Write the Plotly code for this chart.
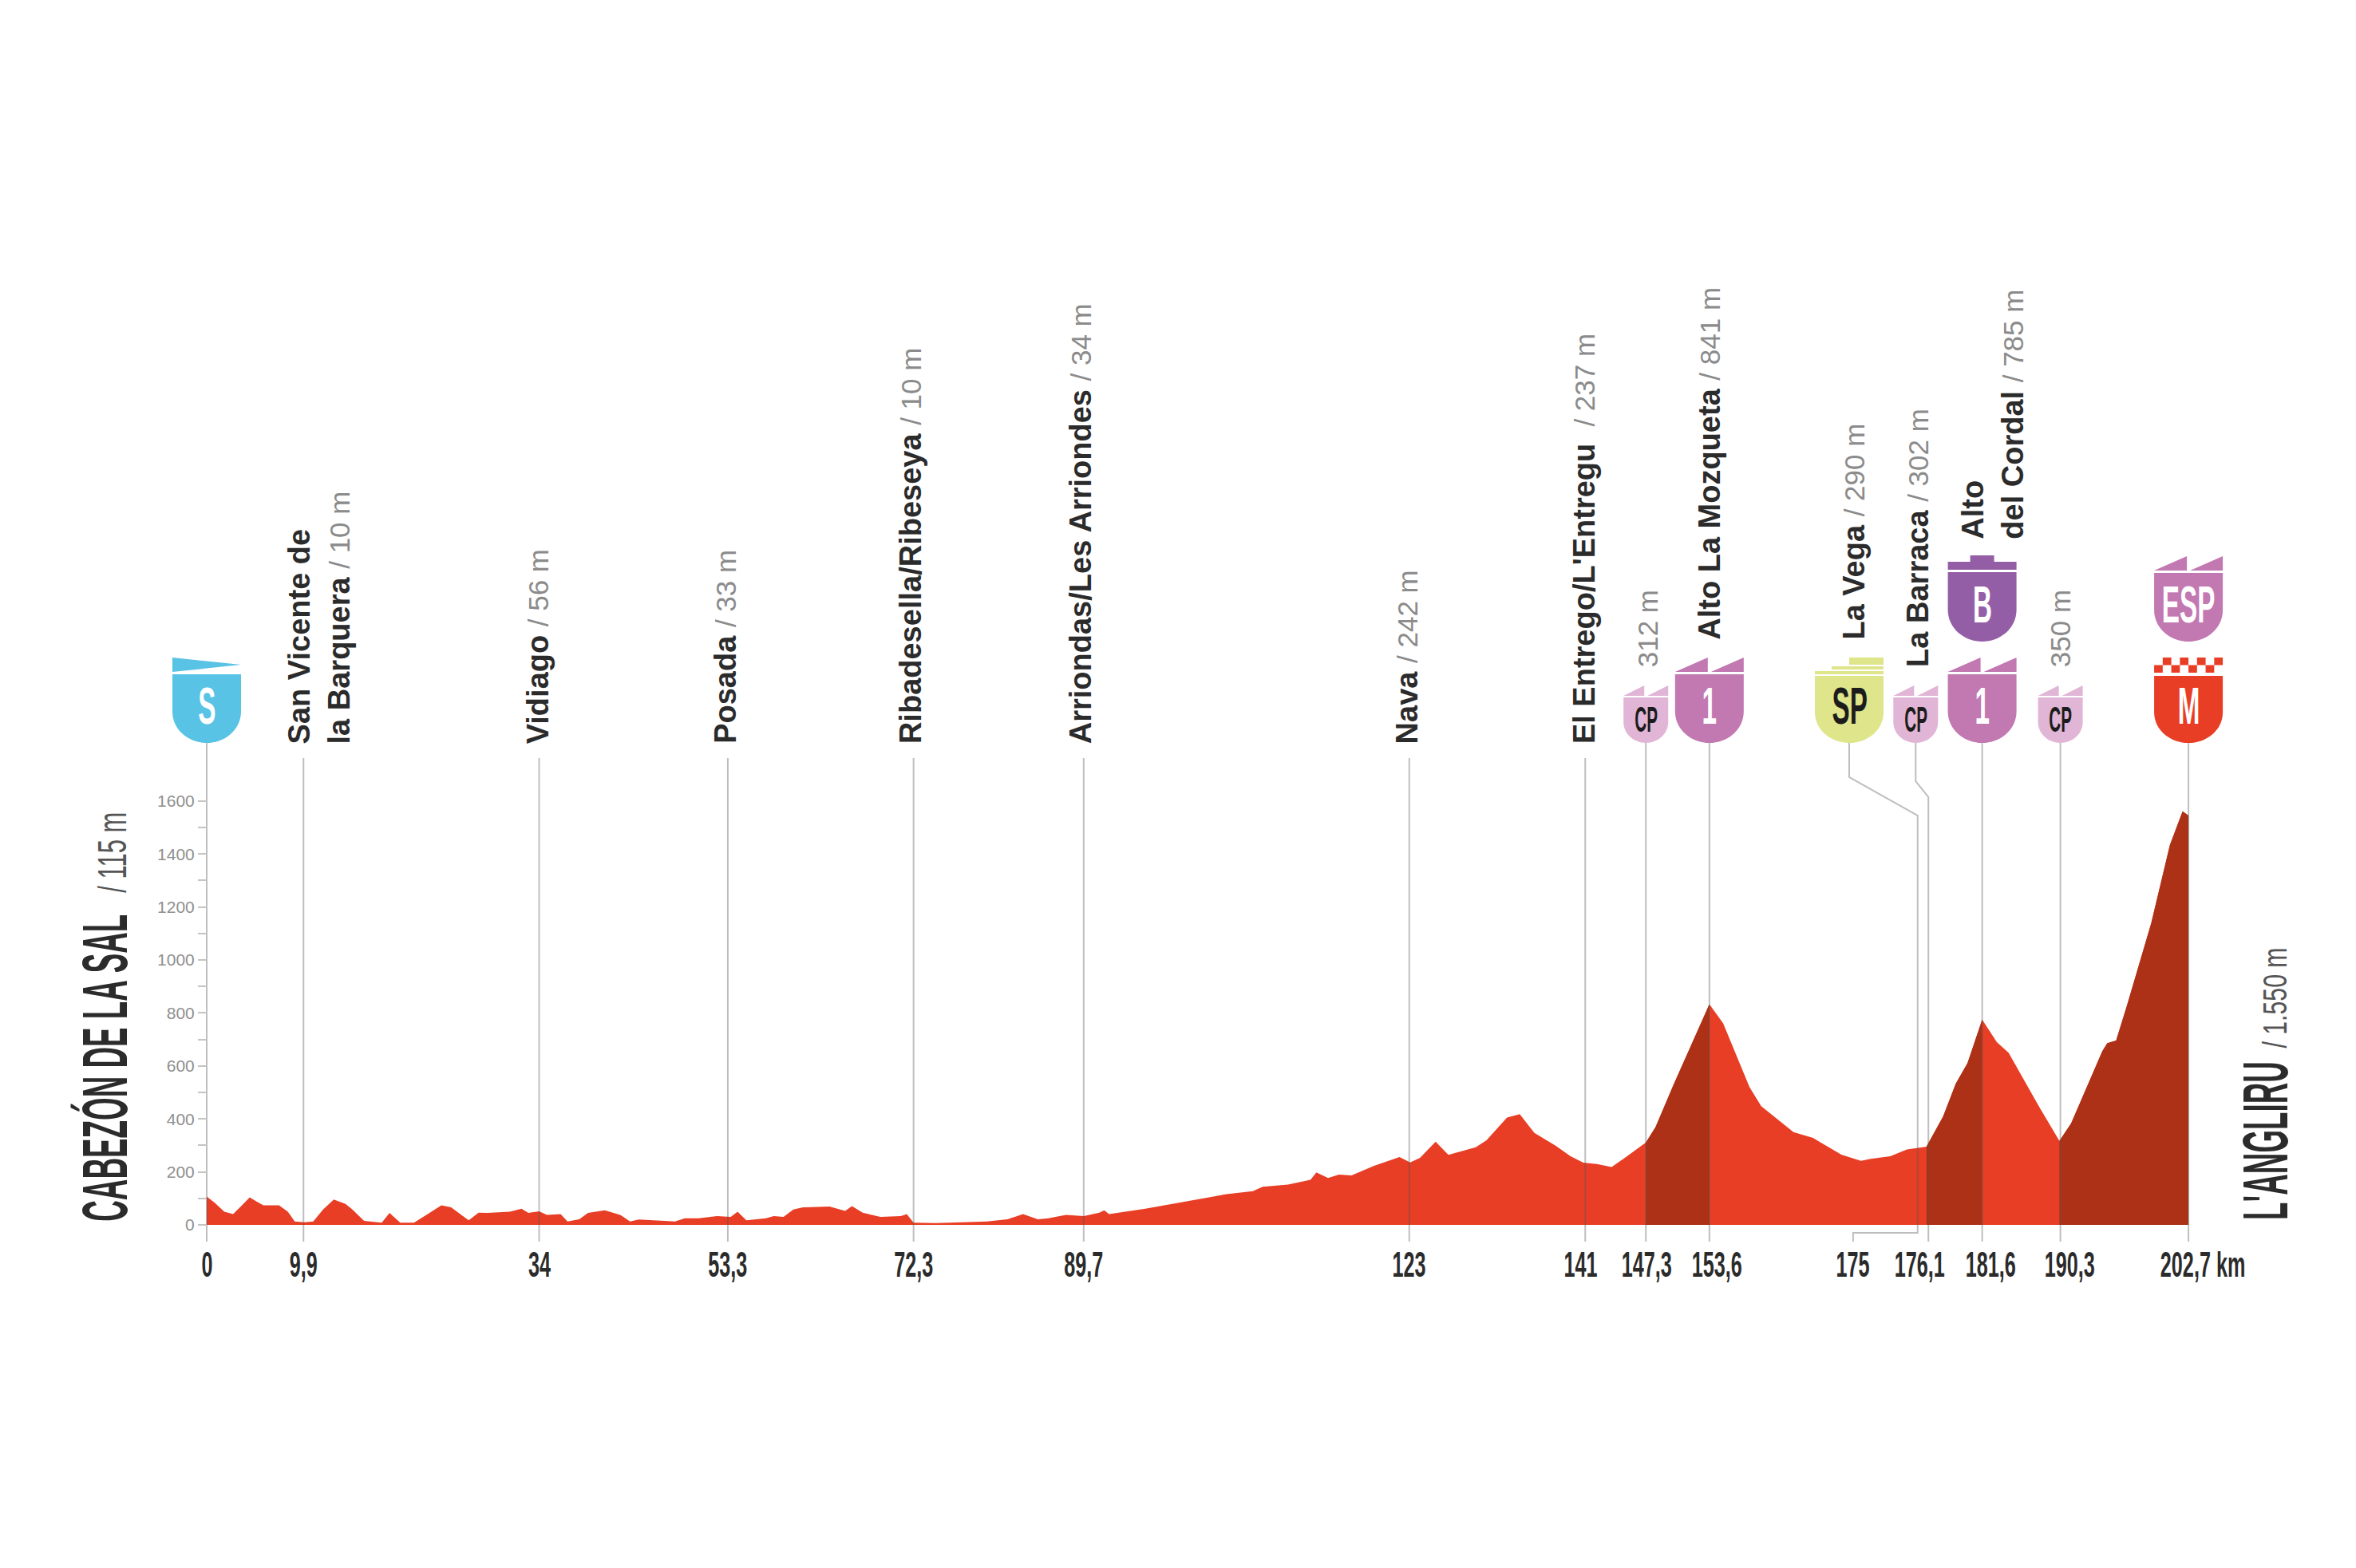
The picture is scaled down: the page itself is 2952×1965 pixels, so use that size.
import json
import plotly.graph_objects as go

# elevation profile
KM = [0, 0.84, 1.8, 2.7, 3.4, 4.4, 5.1, 5.8, 7.4, 8.3, 9.0, 10, 10.9, 11.9, 13, 14.2, 14.9, 16.1, 17.9, 18.7,
      19.8, 21.2, 22.6, 24, 25, 25.9, 26.8, 27.8, 28.7, 31, 32.2, 32.9, 34, 34.8, 36.2, 36.9, 38.1, 39, 40.7, 42.3,
      43.3, 44.2, 47.9, 48.9, 50.3, 52.2, 53.6, 54.3, 55.2, 57.2, 58, 59, 60, 61, 63.7, 65.3, 66, 67.1, 68.9, 71,
      71.6, 72.3, 74.6, 79.8, 81.9, 83.5, 85, 86.1, 87.9, 89.7, 91.3, 91.8, 92.3, 96, 100.7, 104.3, 107, 108, 110.6, 112.9,
      113.5, 114.7, 115.8, 117.1, 119.4, 122, 123.1, 124.1, 125.7, 127, 129.8, 130.9, 133, 134.3, 135.8, 138, 139.5, 140.8, 142.2, 143.7,
      145.5, 147.2, 148.2, 150, 153.7, 155.1, 157.8, 159, 162.3, 164.3, 167.2, 169.2, 170.2, 172.2, 173.9, 175.9, 177.6, 178.9, 180.1, 181.6,
      183.1, 184.3, 187.5, 189.5, 190.7, 193.9, 194.4, 195.3, 196.4, 198.9, 200.8, 202.1, 202.7]
ELE = [107, 83, 50, 41, 66, 104, 88, 74, 74, 50, 13, 10, 13, 58, 96, 79, 58, 15, 8, 45,
       8, 8, 41, 74, 66, 41, 17, 46, 45, 50, 61, 45, 51, 38, 41, 13, 21, 45, 55, 38,
       13, 20, 13, 25, 25, 33, 30, 50, 17, 25, 33, 30, 58, 66, 69, 53, 71, 46, 30, 33,
       41, 8, 7, 13, 21, 41, 21, 25, 38, 33, 46, 55, 41, 61, 91, 116, 127, 144, 152, 170,
       198, 177, 190, 187, 223, 256, 236, 253, 314, 264, 293, 319, 405, 418, 347, 298, 259, 235, 230, 218,
       265, 311, 370, 526, 833, 761, 520, 448, 350, 328, 265, 242, 249, 259, 285, 295, 409, 533, 611, 775,
       690, 650, 441, 317, 383, 657, 686, 696, 827, 1140, 1434, 1561, 1545]

# darker stretches = the climbs
CLIMBS = [(147.2, 153.7), (175.9, 181.6), (189.5, 202.7)]

Y_TICKS = list(range(0, 1700, 100))
Y_LABELS = [str(v) if v % 200 == 0 else "" for v in Y_TICKS]

# km where the plain vertical lines sit
PLAIN_LINES = [9.9, 34, 53.3, 72.3, 89.7, 123, 141]
BADGE_LINES = [0, 147.2, 153.7, 181.6, 189.6, 202.7]

KM_LABELS = ["0", "9,9", "34", "53,3", "72,3", "89,7", "123", "141", "147,3", "153,6", "175", "176,1", "181,6", "190,3", "202,7 km"]
KM_LABEL_POS = [0, 9.9, 34, 53.3, 72.3, 89.7, 123, 140.5, 147.3, 154.5, 168.4, 175.2, 182.5, 190.6, 204.2]

PLACES = ["San Vicente de<br>la Barquera", "Vidiago", "Posada", "Ribadesella/Ribeseya", "Arriondas/Les Arriondes", "Nava",
          "El Entrego/L'Entregu ", "Alto La Mozqueta", "La Vega", "La Barraca", "Alto<br>del Cordal"]
PLACE_M = ["10 m", "56 m", "33 m", "10 m", "34 m", "242 m", "237 m", "841 m", "290 m", "302 m", "785 m"]
PLACE_KM = [11.5, 33.9, 53, 72, 89.4, 122.8, 140.9, 153.7, 168.5, 175, 182.7]
PLACE_BOTTOM = [1810, 1810, 1810, 1810, 1810, 1810, 1810, 2202, 2202, 2099, 2581]

CP_M = ["312 m", "350 m"]
CP_KM = [147.4, 189.6]
CP_BOTTOM = [2099, 2099]

BADGE_KIND = ["S", "CP", "1", "SP", "CP", "1", "B", "CP", "ESP", "M"]
BADGE_KM = [0, 147.2, 153.7, 168, 174.8, 181.6, 181.6, 189.6, 202.7, 202.7]
BADGE_BOTTOM = [1819, 1819, 1819, 1819, 1819, 1819, 2202, 1819, 2202, 1819]

RED = "#e83e25"
DARK = "#ad3116"
PINK = "#c278b1"
INK = "#2b2b2b"
GREY = "#8b8b8b"
LINE = "rgba(85,85,85,0.38)"
NARROW = "Liberation Sans Narrow, Liberation Sans, sans-serif"
SANS = "Liberation Sans, Arial, sans-serif"

# the page body has an 8 px margin, so the figure is a little smaller than the window
W, H = 2936, 1949
L, R, T, B = 60, 60, 40, 300
PAGE = 8
PX_PER_KM = 12.25
PX_PER_M = 0.332
X0_PX, Y0_PX = 259, 1535
x_min = (L + PAGE - X0_PX) / PX_PER_KM
x_max = (W - R + PAGE - X0_PX) / PX_PER_KM
y_min = (Y0_PX - (H - B + PAGE)) / PX_PER_M
y_max = (Y0_PX - (T + PAGE)) / PX_PER_M

fig = go.Figure()
fig.add_trace(go.Scatter(x=KM, y=ELE, mode="lines", line=dict(width=0), fill="tozeroy", fillcolor=RED, hoverinfo="skip"))
for a, b in CLIMBS:
    xs = [k for k in KM if a <= k <= b]
    ys = [e for k, e in zip(KM, ELE) if a <= k <= b]
    fig.add_trace(go.Scatter(x=xs, y=ys, mode="lines", line=dict(width=0), fill="tozeroy", fillcolor=DARK, hoverinfo="skip"))


def rule(xs, ys):
    fig.add_trace(go.Scatter(x=xs, y=ys, mode="lines", line=dict(color=LINE, width=2), hoverinfo="skip"))


for k in PLAIN_LINES:
    rule([k, k], [-63, 1762])
for k in BADGE_LINES:
    rule([k, k], [-63, 1819])
# the two lines that dodge sideways to reach their badges
rule([168, 168, 175, 175, 168.4, 168.4], [1819, 1690, 1545, -30, -30, -63])
rule([174.8, 174.8, 176.1, 176.1], [1819, 1674, 1615, -63])


def shield(w, h, tip=0):
    hw = w / 2
    return f"M{-hw},{h} L{hw},{h} L{hw},{h*0.46} C{hw},{h*0.18} {hw*0.5},{tip} 0,{tip} C{-hw*0.5},{tip} {-hw},{h*0.18} {-hw},{h*0.46} Z"


def flags(w, y0, y1):
    hw = w / 2
    return f"M{-hw},{y0} L{-2},{y1} L{-2},{y0} Z M{2},{y0} L{hw},{y1} L{hw},{y0} Z"


def checks(w, y0, y1):
    n = 8
    cw = w / n
    rh = (y1 - y0) / 2
    out = []
    for r in range(2):
        for c in range(n):
            if (r + c) % 2 == 0:
                x0 = -w / 2 + c * cw
                yy = y0 + r * rh
                out.append(f"M{x0},{yy} L{x0+cw},{yy} L{x0+cw},{yy+rh} L{x0},{yy+rh} Z")
    return " ".join(out)


def badge(kind, km, bottom):
    big = 86
    if kind == "CP":
        body, top, col = shield(56, 57), flags(56, 59, 72), "#e0b5d6"
    elif kind == "SP":
        body = shield(big, 84)
        top = "M-43,86 L43,86 L43,90 L-43,90 Z M-22,92 L43,92 L43,96 L-22,96 Z M0,98 L43,98 L43,107 L0,107 Z"
        col = "#dfe58a"
    elif kind == "S":
        body = shield(big, 86)
        top = "M-43,89 L43,98 L-43,107 Z"
        col = "#59c3e6"
    elif kind == "B":
        body = shield(big, 87)
        top = "M-43,90 L43,90 L43,100 L15,100 L15,108 L-15,108 L-15,100 L-43,100 Z"
        col = "#945ea7"
    elif kind == "M":
        body, top, col = shield(big, 84), checks(big, 88, 107), RED
    else:
        body, top, col = shield(big, 86), flags(big, 89, 107), PINK
    for p in (body, top):
        fig.add_shape(type="path", xref="x", yref="y", xsizemode="pixel", ysizemode="pixel", xanchor=km, yanchor=bottom,
                      path=p, fillcolor=col, line=dict(width=0), layer="above")
    small = kind == "CP"
    dark = kind in ("CP", "SP")
    fig.add_annotation(x=km, y=bottom, yshift=30 if small else 46, text=f"<b>{kind}</b>", showarrow=False, xanchor="center", yanchor="middle",
                       font=dict(family=NARROW, size=44 if small else 64, color="#1c1c1c" if dark else "white"))


for kind, km, bottom in zip(BADGE_KIND, BADGE_KM, BADGE_BOTTOM):
    badge(kind, km, bottom)

for text, m, km, bottom in zip(PLACES, PLACE_M, PLACE_KM, PLACE_BOTTOM):
    lines = text.split("<br>")
    lines = [f"<b>{s}</b>" for s in lines]
    label = "<br>".join(lines) + f' <span style="color:{GREY};font-size:35px">/ {m}</span>'
    fig.add_annotation(x=km, y=bottom, text=label, textangle=-90, showarrow=False, xanchor="center", yanchor="bottom", align="left",
                       font=dict(family=SANS, size=38, color=INK))

for m, km, bottom in zip(CP_M, CP_KM, CP_BOTTOM):
    fig.add_annotation(x=km, y=bottom, text=m, textangle=-90, showarrow=False, xanchor="center", yanchor="bottom",
                       font=dict(family=SANS, size=35, color=GREY))

for text, km in zip(KM_LABELS, KM_LABEL_POS):
    fig.add_annotation(x=km, y=-149, text=f"<b>{text}</b>", showarrow=False, xanchor="center", yanchor="middle",
                       font=dict(family=NARROW, size=45, color=INK))


# start and finish names at the sides
def side_text(text, km, m, size, color):
    fig.add_annotation(x=km, y=m, text=text, textangle=-90, showarrow=False, xanchor="center", yanchor="middle",
                       font=dict(family=NARROW, size=size, color=color))


side_text("<b>CABEZÓN DE LA SAL</b>", -10.4, 593, 80, INK)
side_text("/ 115 m", -9.6, 1406, 50, "#555555")
side_text("<b>L'ANGLIRU</b>", 210.5, 316, 80, INK)
side_text("/ 1.550 m", 211.5, 858, 42, "#555555")

fig.update_layout(
    width=W, height=H, showlegend=False, paper_bgcolor="white", plot_bgcolor="white",
    margin=dict(l=L, r=R, t=T, b=B),
    xaxis=dict(range=[x_min, x_max], visible=False),
    yaxis=dict(range=[y_min, y_max], tickmode="array", tickvals=Y_TICKS, ticktext=Y_LABELS, ticks="outside", ticklen=11,
               tickwidth=2, tickcolor="#c4c4c4", showgrid=False, zeroline=False, showline=False,
               anchor="free", position=(0 - x_min) / (x_max - x_min),
               tickfont=dict(family=SANS, size=21, color="#8f8f8f")),
)

# the narrow type on the original is much more condensed than anything installed
RATIO = {45: 0.56, 80: 0.46, 50: 0.62, 64: 0.52, 44: 0.47, 42: 0.72}
squeeze = """
var r = %s;
document.querySelectorAll('.annotation-text').forEach(function(t){
  var k = r[parseFloat(t.style.fontSize)];
  if(k){ t.setAttribute('lengthAdjust','spacingAndGlyphs'); t.setAttribute('textLength', t.getComputedTextLength()*k); }
});
""" % json.dumps(RATIO)

fig.write_html("out.html", post_script=squeeze)
